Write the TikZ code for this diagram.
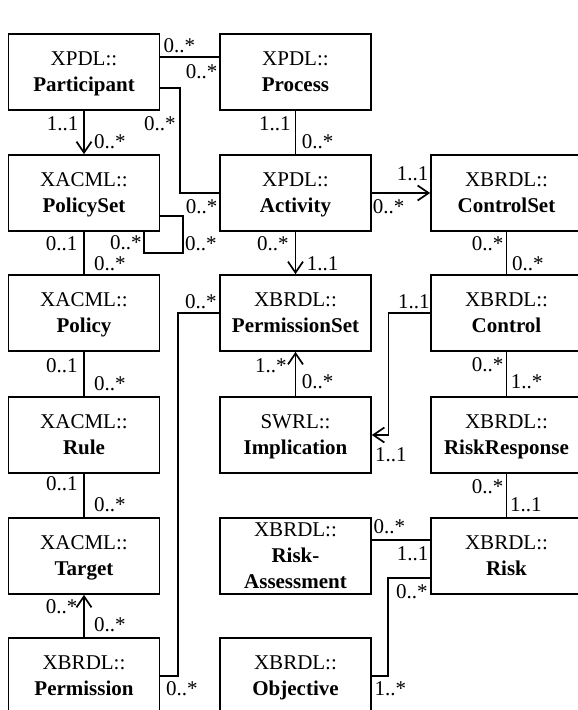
\documentclass[tikz,border=0pt]{standalone}
\usepackage{fontspec}
\setmainfont{Liberation Serif}
\usetikzlibrary{arrows.meta}

% two-line class label: package prefix over bold class name
\newcommand{\umlname}[2]{\rule{0pt}{17pt}#1\\\textbf{#2}\rule[-5pt]{0pt}{5pt}}

\tikzset{
  classbox/.style={draw, line width=1.7pt, minimum width=151pt, minimum height=76pt,
    inner sep=0pt, align=center, font=\fontsize{21}{26}\selectfont},
  assoc/.style={line width=1.7pt},
  nav/.style={line width=1.7pt, -{Straight Barb[length=11pt,width=15pt]}},
  mult/.style={inner sep=0pt, anchor=base west, font=\fontsize{21}{26}\selectfont},
}

\begin{document}
\begin{tikzpicture}[x=1pt, y=-1pt]
\useasboundingbox (0,0) rectangle (578,710);
\clip (0,0) rectangle (578,710);

% classes
\node[classbox] (part)  at (84,72)    {\umlname{XPDL::}{Participant}};
\node[classbox] (proc)  at (295.5,72) {\umlname{XPDL::}{Process}};
\node[classbox] (pset)  at (84,193)   {\umlname{XACML::}{PolicySet}};
\node[classbox] (act)   at (295.5,193){\umlname{XPDL::}{Activity}};
\node[classbox] (cset)  at (506.5,193){\umlname{XBRDL::}{ControlSet}};
\node[classbox] (pol)   at (84,313)   {\umlname{XACML::}{Policy}};
\node[classbox] (perms) at (295.5,313){\umlname{XBRDL::}{PermissionSet}};
\node[classbox] (ctrl)  at (506.5,313){\umlname{XBRDL::}{Control}};
\node[classbox] (rule)  at (84,435)   {\umlname{XACML::}{Rule}};
\node[classbox] (impl)  at (295.5,435){\umlname{SWRL::}{Implication}};
\node[classbox] (rresp) at (506.5,435){\umlname{XBRDL::}{RiskResponse}};
\node[classbox] (tgt)   at (84,556)   {\umlname{XACML::}{Target}};
\node[classbox] (rass)  at (295.5,556){\rule{0pt}{17pt}XBRDL::\\\textbf{Risk-}\\\textbf{Assessment}\rule[-5pt]{0pt}{5pt}};
\node[classbox] (risk)  at (506.5,556){\umlname{XBRDL::}{Risk}};
\node[classbox] (perm)  at (84,676)   {\umlname{XBRDL::}{Permission}};
\node[classbox] (obj)   at (295.5,676){\umlname{XBRDL::}{Objective}};

% associations
\draw[assoc] ([yshift=15pt]part.east) -- ([yshift=15pt]proc.west);
\draw[assoc] ([yshift=-16pt]part.east) -- ++(19.5,0) |- (act.west);
\draw[nav]   (part.south) -- (pset.north);
\draw[assoc] (proc.south) -- (act.north);
\draw[nav]   (act.east) -- (cset.west);
\draw[assoc] ([yshift=-23pt]pset.east) -- ++(22.5,0) -- ++(0,37) -| ([xshift=60pt]pset.south);
\draw[assoc] (pset.south) -- (pol.north);
\draw[nav]   (act.south) -- (perms.north);
\draw[assoc] (cset.south) -- (ctrl.north);
\draw[assoc] (perms.west) -- ++(-41,0) |- (perm.east);
\draw[nav]   (ctrl.west) -- ++(-41.7,0) |- (impl.east);
\draw[assoc] (pol.south) -- (rule.north);
\draw[nav]   (impl.north) -- (perms.south);
\draw[assoc] (ctrl.south) -- (rresp.north);
\draw[assoc] (rule.south) -- (tgt.north);
\draw[assoc] (rresp.south) -- (risk.north);
\draw[assoc] ([yshift=16pt]rass.east) -- ([yshift=16pt]risk.west);
\draw[nav]   (perm.north) -- (tgt.south);
\draw[assoc] ([yshift=-22pt]risk.west) -- ++(-42,0) |- (obj.east);

% multiplicities
\node[mult] (m1)  at (163.3,52)  {0..*};
\node[mult] (m2)  at (185.7,78)  {0..*};
\node[mult] (m3)  at (46.7,130)  {1..1};
\node[mult] (m4)  at (94,148)    {0..*};
\node[mult] (m5)  at (144,130)   {0..*};
\node[mult] (m6)  at (185.7,213) {0..*};
\node[mult] (m7)  at (259,130)   {1..1};
\node[mult] (m8)  at (301.7,148) {0..*};
\node[mult] (m9)  at (396.7,180) {1..1};
\node[mult] (m10) at (372.7,213) {0..*};
\node[mult] (m11) at (45.7,250)  {0..1};
\node[mult] (m12) at (94,270)    {0..*};
\node[mult] (m13) at (110,249)   {0..*};
\node[mult] (m14) at (185,250)   {0..*};
\node[mult] (m15) at (257,250)   {0..*};
\node[mult] (m16) at (306.7,270) {1..1};
\node[mult] (m17) at (471.7,250.6) {0..*};
\node[mult] (m18) at (512,270)   {0..*};
\node[mult] (m19) at (185,308)   {0..*};
\node[mult] (m20) at (398,308)   {1..1};
\node[mult] (m21) at (46,372)    {0..1};
\node[mult] (m22) at (94,390)    {0..*};
\node[mult] (m23) at (255,372)   {1..*};
\node[mult] (m24) at (301.7,388) {0..*};
\node[mult] (m25) at (471.7,371.7) {0..*};
\node[mult] (m26) at (510.7,388) {1..*};
\node[mult] (m27) at (375,461.7) {1..1};
\node[mult] (m28) at (46,490)    {0..1};
\node[mult] (m29) at (94,511.7)  {0..*};
\node[mult] (m30) at (471.7,493) {0..*};
\node[mult] (m31) at (510,511.7) {1..1};
\node[mult] (m32) at (373.3,533.3) {0..*};
\node[mult] (m33) at (396.7,560) {1..1};
\node[mult] (m34) at (396,598)   {0..*};
\node[mult] (m35) at (45.7,613)  {0..*};
\node[mult] (m36) at (94,631.7)  {0..*};
\node[mult] (m37) at (166,695)   {0..*};
\node[mult] (m38) at (374.3,695) {1..*};
\end{tikzpicture}
\end{document}
